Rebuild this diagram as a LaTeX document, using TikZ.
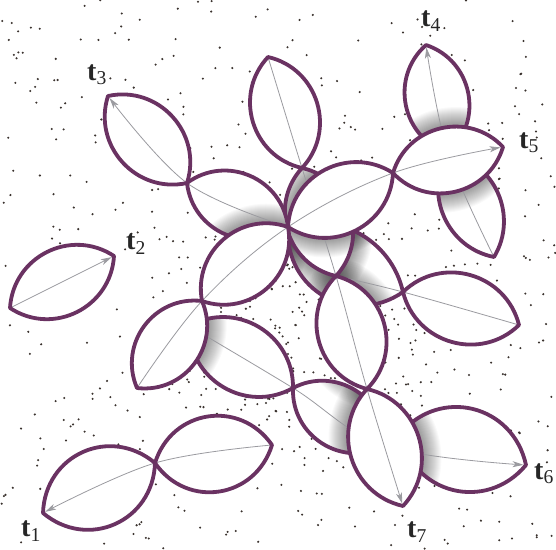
\documentclass[tikz,border=0pt]{standalone}
\usepackage{fontspec}
\setmainfont{Liberation Serif}
\usetikzlibrary{arrows.meta}
\definecolor{lensline}{RGB}{106,50,98}
\definecolor{chaingray}{RGB}{155,155,160}
\definecolor{dotcol}{RGB}{58,50,46}
\tikzset{
  lensedge/.style={draw=lensline, line width=3.8pt, line join=round},
  chainline/.style={draw=chaingray, line width=0.8pt},
  arrowtip/.style={-{Stealth[length=11pt,width=6pt,inset=3pt]}, shorten >=2.5pt},
  lbl/.style={font=\fontsize{28}{28}\selectfont, text=black!85, inner sep=0pt},
  lb/.style={bend left=60,looseness=1.135},
  lfat/.style={bend left=64,looseness=1.22},
  lthin/.style={bend left=55,looseness=1.08},
  lflat/.style={bend left=48,looseness=1.02},
}
\newcommand\lenspath[4]{(#1) to[#3] (#2) to[#4] (#1) -- cycle}
\newcommand\shadowof[4]{%
  \foreach \sw in {5,7,...,39}{%
    \draw[black,line width=\sw pt,opacity=0.024] \lenspath{#1}{#2}{#3}{#4};}}
\newcommand\drawlens[6]{%
  \fill[white] \lenspath{#1}{#2}{#3}{#4};
  \begin{scope}
    \clip \lenspath{#1}{#2}{#3}{#4};
    #6
    #5
  \end{scope}
  \draw[lensedge] \lenspath{#1}{#2}{#3}{#4};}
\newcommand\chOne{plot[smooth,tension=0.6] coordinates {(a3) (a2) (a1)}}
\newcommand\chTwo{plot[smooth,tension=0.6] coordinates {(b1) (b2)}}
\newcommand\chThree{plot[smooth,tension=0.6] coordinates {(c0) (c1) (c2)}}
\newcommand\chFour{plot[smooth,tension=0.6] coordinates {(g3) (g1) (g2)}}
\newcommand\chFive{plot[smooth,tension=0.6] coordinates {(d1) (d2) (c0) (e1) (e2)}}
\newcommand\chSix{plot[smooth,tension=0.6] coordinates {(h1) (h2) (h3) (h5)}}
\newcommand\chSeven{plot[smooth,tension=0.6] coordinates {(f1) (f2) (f3) (f4) (f5)}}
\newcommand\chR{plot[smooth,tension=0.6] coordinates {(f3) (r1) (r2)}}
\begin{document}
\begin{tikzpicture}[x=1pt,y=-1pt]
\useasboundingbox (0,0) rectangle (556,549);
\fill[white] (0,0) rectangle (556,549);
% tips
\coordinate (a1) at (43,513);
\coordinate (a2) at (155,463);
\coordinate (a3) at (272,445);
\coordinate (b1) at (10,308);
\coordinate (b2) at (114,256);
\coordinate (c0) at (288,227);
\coordinate (c1) at (187,183);
\coordinate (c2) at (108,96);
\coordinate (d1) at (137,388);
\coordinate (d2) at (202,301);
\coordinate (e1) at (393,173);
\coordinate (e2) at (503,147);
\coordinate (f1) at (268,57);
\coordinate (f2) at (302,168);
\coordinate (f3) at (336,276);
\coordinate (f4) at (367,389);
\coordinate (f5) at (403,506);
\coordinate (g1) at (448,153);
\coordinate (g2) at (426,45);
\coordinate (g3) at (494,257);
\coordinate (h1) at (189,326);
\coordinate (h2) at (293,388);
\coordinate (h3) at (385,446);
\coordinate (h4) at (400,434);
\coordinate (h5) at (526,465);
\coordinate (r1) at (403,292);
\coordinate (r2) at (519,325);
% stippled background
\begin{scope}
\clip (0,0) rectangle (556,549);
\pgfmathsetseed{4711}
\foreach \i in {1,...,520}{%
  \pgfmathsetmacro\dx{rnd*556}\pgfmathsetmacro\dy{rnd*549}%
  \fill[dotcol] (\dx,\dy) circle[radius=1.15pt];}
\foreach \i in {1,...,380}{%
  \pgfmathsetmacro\dx{295+130*(rnd+rnd+rnd-1.5)}\pgfmathsetmacro\dy{320+130*(rnd+rnd+rnd-1.5)}%
  \fill[dotcol] (\dx,\dy) circle[radius=1.15pt];}
\end{scope}
% lenses lying behind others
\drawlens{c0}{r1}{lflat}{lfat}{\draw[chainline] \chR;}{\shadowof{f2}{f3}{lb}{lb}\shadowof{c0}{e1}{lb}{lb}\shadowof{f3}{f4}{lb}{lb}\shadowof{c0}{d2}{lb}{lb}}
\drawlens{f2}{f3}{lb}{lb}{\draw[chainline] \chSeven;}{\shadowof{c0}{e1}{lb}{lb}}
\drawlens{c0}{c1}{lb}{lb}{\draw[chainline] \chThree;}{\shadowof{c0}{d2}{lb}{lb}}
\drawlens{h1}{h2}{lb}{lb}{\draw[chainline] \chSix;}{\shadowof{d2}{d1}{lb}{lb}}
\drawlens{h2}{h3}{lb}{lb}{\draw[chainline] \chSix;}{\shadowof{f4}{f5}{lb}{lb}\shadowof{f3}{f4}{lb}{lb}}
\drawlens{h4}{h5}{lfat}{lfat}{\draw[chainline,arrowtip] \chSix;}{\shadowof{f4}{f5}{lb}{lb}}
\drawlens{g1}{g2}{lb}{lb}{\draw[chainline,arrowtip] \chFour;}{\shadowof{e1}{e2}{lb}{lb}}
\drawlens{g3}{g1}{lthin}{lthin}{\draw[chainline] \chFour;}{\shadowof{e1}{e2}{lb}{lb}}
% front lenses
\drawlens{f1}{f2}{lb}{lb}{\draw[chainline] \chSeven;}{}
\drawlens{c1}{c2}{lb}{lb}{\draw[chainline,arrowtip] \chThree;}{}
\drawlens{c0}{d2}{lb}{lb}{\draw[chainline] \chFive;}{}
\drawlens{d2}{d1}{lb}{lb}{\draw[chainline] \chFive;}{}
\drawlens{c0}{e1}{lb}{lb}{\draw[chainline] \chFive;}{}
\drawlens{e1}{e2}{lb}{lb}{\draw[chainline,arrowtip] \chFive;}{}
\drawlens{f3}{f4}{lb}{lb}{\draw[chainline] \chSeven;}{}
\drawlens{f4}{f5}{lb}{lb}{\draw[chainline,arrowtip] \chSeven;}{}
\drawlens{r1}{r2}{lb}{lb}{\draw[chainline] \chR;}{}
\drawlens{a2}{a1}{lfat}{lfat}{\draw[chainline,arrowtip] \chOne;}{}
\drawlens{a3}{a2}{lfat}{lfat}{\draw[chainline] \chOne;}{}
\drawlens{b1}{b2}{lb}{lb}{\draw[chainline,arrowtip] \chTwo;}{}
% labels
\node[lbl] (t1) at (31,531) {{\bfseries t}\textsubscript{1}};
\node[lbl] (t2) at (136,244) {{\bfseries t}\textsubscript{2}};
\node[lbl] (t3) at (97,75) {{\bfseries t}\textsubscript{3}};
\node[lbl] (t4) at (431,21) {{\bfseries t}\textsubscript{4}};
\node[lbl] (t5) at (529,143) {{\bfseries t}\textsubscript{5}};
\node[lbl] (t6) at (544,474) {{\bfseries t}\textsubscript{6}};
\node[lbl] (t7) at (417,532) {{\bfseries t}\textsubscript{7}};
\end{tikzpicture}
\end{document}
